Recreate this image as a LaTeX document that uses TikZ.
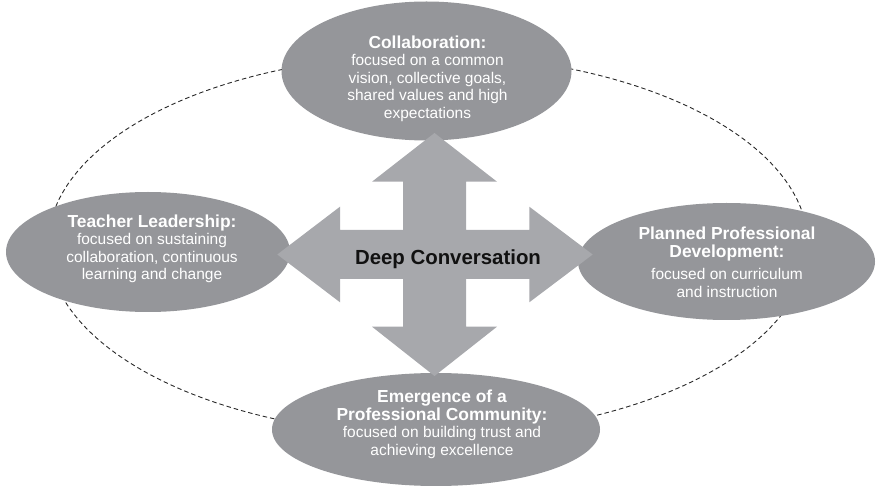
\documentclass[tikz,border=0pt]{standalone}
\usepackage{fontspec}
\setmainfont{Liberation Sans}
\usetikzlibrary{shapes.geometric}
\definecolor{bubblegray}{RGB}{149,150,154}
\definecolor{crossgray}{RGB}{167,168,172}
\definecolor{dashgray}{RGB}{40,40,40}
\newcommand{\ttl}[1]{{\fontsize{17.4}{17.5}\selectfont\bfseries #1}}
\tikzset{
  bubble/.style={ellipse, fill=bubblegray, draw=none, inner sep=0pt},
  btext/.style={text=white, align=center, inner sep=0pt, font=\fontsize{15.5}{17.5}\selectfont},
  ring/.style={draw=dashgray, line width=0.9pt, dash pattern=on 4.5pt off 3pt},
  crossarrow/.style={fill=crossgray, draw=none}
}
\begin{document}
\begin{tikzpicture}[x=1pt,y=-1pt]
\useasboundingbox (0,0) rectangle (876,486);
% dashed ring
\draw[ring] (428,245) ellipse [x radius=380, y radius=190];
% bubbles
\node[bubble, minimum width=290pt, minimum height=139pt] (collab) at (426.5,71) {};
\node[bubble, minimum width=284pt, minimum height=120pt] (teacher) at (148,252) {};
\node[bubble, minimum width=297pt, minimum height=117pt] (planned) at (726.5,261.5) {};
\node[bubble, minimum width=328pt, minimum height=113pt] (emerge) at (436,429.5) {};
% cross arrow
\fill[crossarrow] (434.5,133) -- (497,181.7) -- (466,181.7) -- (466,230) -- (529.3,230) -- (529.3,206.7)
  -- (592.7,254.5) -- (529.3,302.3) -- (529.3,279) -- (466,279) -- (466,326.7) -- (497,326.7)
  -- (434.5,376) -- (372,326.7) -- (403,326.7) -- (403,279) -- (340,279) -- (340,302.3)
  -- (277.3,254.5) -- (340,206.7) -- (340,230) -- (403,230) -- (403,181.7) -- (372,181.7) -- cycle;
% texts
\node[btext] (collabT) at (427.5,78.5) {\ttl{Collaboration:}\\focused on a common\\vision, collective goals,\\shared values and high\\expectations};
\node[btext] (teacherT) at (152,248.8) {\ttl{Teacher Leadership:}\\focused on sustaining\\collaboration, continuous\\learning and change};
\node[btext] (plannedT) at (727,262.5) {\ttl{Planned Professional}\\\ttl{Development:}\\[5pt]focused on curriculum\\and instruction};
\node[btext] (emergeT) at (442,424.4) {\ttl{Emergence of a}\\\ttl{Professional Community:}\\focused on building trust and\\achieving excellence};
\node[inner sep=0pt, anchor=base, font=\fontsize{20.4}{22}\selectfont\bfseries, text={rgb,255:red,17;green,17;blue,17}] (deep) at (448,265) {Deep Conversation};
\end{tikzpicture}
\end{document}
